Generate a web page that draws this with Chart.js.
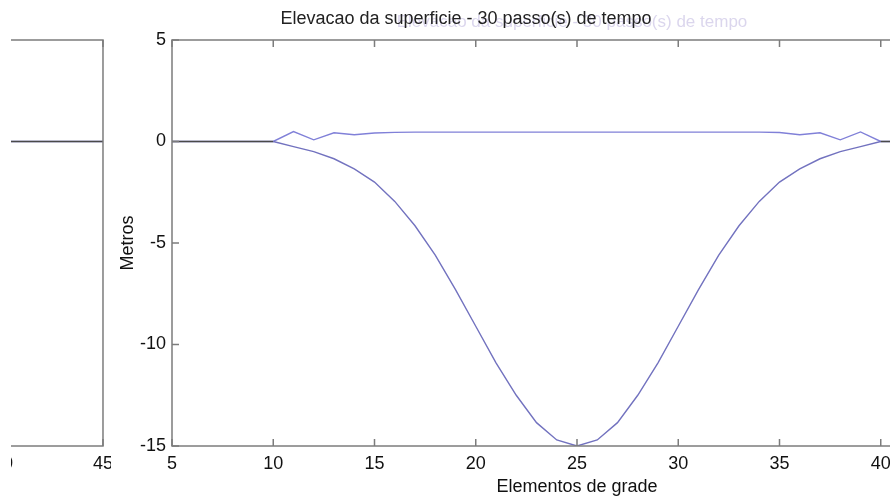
<!DOCTYPE html>
<html>
<head>
<meta charset="utf-8">
<script src="https://cdn.jsdelivr.net/npm/chart.js@4/dist/chart.umd.min.js"></script>
<style>
  html, body { margin: 0; padding: 0; background: #fff; overflow: hidden; width: 890px; height: 504px; }
  #painel-anterior { position: absolute; left: 11px; top: 0; width: 100px; height: 504px; overflow: hidden; }
  #grafico-anterior { position: absolute; left: -41px; top: 0; }
  #grafico { position: absolute; left: 111px; top: 0; }
</style>
</head>
<body>
<div id="painel-anterior"><canvas id="grafico-anterior" width="150" height="504"></canvas></div>
<canvas id="grafico" width="900" height="504"></canvas>
<script>
const titulo = 'Elevacao da superficie - 30 passo(s) de tempo'
const elementos = [5, 6, 7, 8, 9, 10, 11, 12, 13, 14, 15, 16, 17, 18, 19, 20, 21, 22, 23, 24, 25,
    26, 27, 28, 29, 30, 31, 32, 33, 34, 35, 36, 37, 38, 39, 40, 41, 42, 43, 44, 45]
// fundo (batimetria)
const fundo = [0, 0, 0, 0, 0, 0, -0.25, -0.5, -0.85, -1.35, -2.0, -2.95, -4.15, -5.6, -7.3, -9.1,
    -10.9, -12.5, -13.85, -14.7, -15, -14.7, -13.85, -12.5, -10.9, -9.1, -7.3, -5.6, -4.15, -2.95,
    -2.0, -1.35, -0.85, -0.5, -0.25, 0, 0, 0, 0, 0, 0]
const superficie = [0, 0, 0, 0, 0, 0, 0.49, 0.08, 0.43, 0.33, 0.42, 0.45, 0.46, 0.46, 0.46, 0.46,
    0.46, 0.46, 0.46, 0.46, 0.46, 0.46, 0.46, 0.46, 0.46, 0.46, 0.46, 0.46, 0.46, 0.46,
    0.44, 0.33, 0.43, 0.08, 0.47, 0, 0, 0, 0, 0, 0]
const ticksX = [5, 10, 15, 20, 25, 30, 35, 40, 45]
const ticksXAnterior = [40, 45]
const ticksY = [-15, -10, -5, 0, 5]

Chart.defaults.font.family = '"Liberation Sans", Arial, sans-serif'
Chart.defaults.font.size = 18
Chart.defaults.color = '#111'

const pontos = ys => elementos.map((x, i) => ({x: x, y: ys[i]}))

// moldura estilo matlab, ticks para dentro
const moldura = {
    id: 'moldura',
    afterDatasetsDraw(chart) {
        const {ctx, chartArea: a, scales: {x, y}} = chart
        ctx.save()
        ctx.strokeStyle = '#7c7c7c'
        ctx.lineWidth = 1.5
        ctx.strokeRect(a.left, a.top, a.right - a.left, a.bottom - a.top)
        ctx.beginPath()
        x.ticks.forEach(t => {
            const px = x.getPixelForValue(t.value)
            ctx.moveTo(px, a.bottom); ctx.lineTo(px, a.bottom - 7)
            ctx.moveTo(px, a.top); ctx.lineTo(px, a.top + 7)
        })
        if (y.options.display) {
            y.ticks.forEach(t => {
                const py = y.getPixelForValue(t.value)
                ctx.moveTo(a.left, py); ctx.lineTo(a.left + 7, py)
                ctx.moveTo(a.right, py); ctx.lineTo(a.right - 7, py)
            })
        }
        ctx.stroke()
        ctx.restore()
    }
}

const tituloPlugin = {
    id: 'titulo',
    afterDraw(chart) {
        const {ctx, chartArea: a} = chart
        ctx.save()
        ctx.textAlign = 'center'
        // titulo do quadro seguinte, quase apagado
        ctx.font = '17px "Liberation Sans", Arial, sans-serif'
        ctx.fillStyle = 'rgba(175,165,215,0.45)'
        ctx.fillText(titulo, (a.left + a.right) / 2 - 5, 27)
        ctx.font = '18px "Liberation Sans", Arial, sans-serif'
        ctx.fillStyle = '#222'
        ctx.fillText(titulo, a.left + 294, 24)
        ctx.restore()
    }
}

function series() {
    return [{
        data: pontos(fundo),
        borderWidth: 1.4,
        borderColor: '#7272bf',
        segment: {
            borderColor: c => (c.p0.parsed.y === 0 && c.p1.parsed.y === 0) ? '#4a4a4a' : undefined
        },
        pointRadius: 0,
        tension: 0
    }, {
        data: pontos(superficie),
        borderWidth: 1.4,
        borderColor: '#8080d8',
        pointRadius: 0,
        tension: 0
    }]
}

function eixos(xMin, xMax, marcasX, mostrarY) {
    return {
        x: {
            type: 'linear', min: xMin, max: xMax,
            grid: {display: false, drawTicks: false},
            border: {display: false},
            afterBuildTicks: s => { s.ticks = marcasX.map(v => ({value: v})) },
            ticks: {padding: 7, maxRotation: 0, autoSkip: false},
            afterFit: s => { s.height = 58 },
            title: {display: mostrarY, text: 'Elementos de grade', padding: {top: 0, bottom: 6}}
        },
        y: {
            display: mostrarY,
            min: -15, max: 5,
            grid: {display: false, drawTicks: false},
            border: {display: false},
            afterBuildTicks: s => { s.ticks = ticksY.map(v => ({value: v})) },
            ticks: {padding: 6},
            afterFit: s => { s.width = mostrarY ? 61 : 0 },
            title: {display: true, text: 'Metros', padding: {top: 6, bottom: 0}}
        }
    }
}

new Chart(document.getElementById('grafico-anterior'), {
    type: 'line',
    data: {datasets: series()},
    options: {
        responsive: false,
        animation: false,
        layout: {padding: {left: 33, right: 16, top: 40, bottom: 0}},
        plugins: {legend: {display: false}, tooltip: {enabled: false}},
        scales: eixos(40, 45, ticksXAnterior, false)
    },
    plugins: [moldura]
})

new Chart(document.getElementById('grafico'), {
    type: 'line',
    data: {datasets: series()},
    options: {
        responsive: false,
        animation: false,
        layout: {padding: {left: 0, right: 29, top: 40, bottom: 0}},
        plugins: {legend: {display: false}, tooltip: {enabled: false}},
        scales: eixos(5, 45, ticksX, true)
    },
    plugins: [moldura, tituloPlugin]
})
</script>
</body>
</html>
